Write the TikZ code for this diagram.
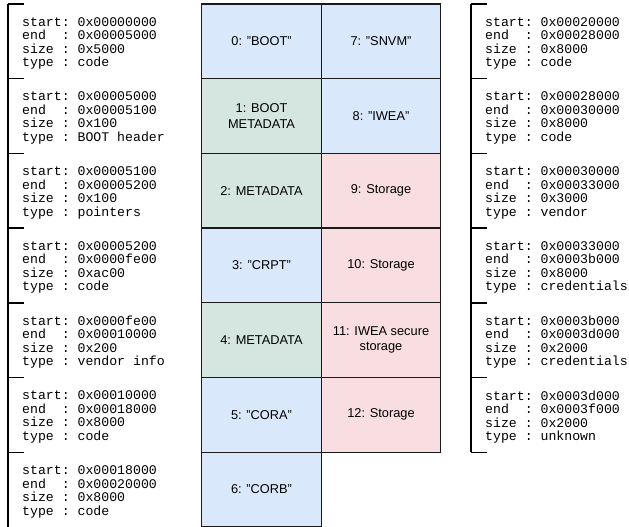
\documentclass[tikz,border=0pt]{standalone}
\usepackage{fontspec}
\setsansfont{Liberation Sans}
\setmonofont{Liberation Mono}
\usepackage{tikz}
\usetikzlibrary{arrows.meta, positioning, calc}
\definecolor{pblue}{HTML}{DAE8FC}
\definecolor{pgreen}{HTML}{D5E5DF}
\definecolor{ppink}{HTML}{F8DDE1}
\definecolor{pline}{HTML}{1A1A1A}
\tikzset{
  >=Latex,
  cell/.style={
    draw=pline, fill=#1, line width=1.3pt,
    minimum width=119.5pt, minimum height=74.7pt, inner sep=0pt,
    align=center, font=\fontsize{12.8}{15.5}\selectfont\sffamily
  },
  cell/.default=pblue,
  info/.style={
    anchor=west, align=left, inner sep=0pt,
    font=\fontsize{13.2}{13.5}\selectfont\ttfamily
  },
  bracket/.style={line width=1.4pt, draw=black}
}

\begin{document}
\begin{tikzpicture}[x=1pt, y=-1pt]
  \useasboundingbox (0,0) rectangle (629,527);
  % partition cells
  \foreach \i/\col/\fillc/\lab in {
      0/0/pblue/{0: "BOOT"},
      1/0/pgreen/{1: BOOT\\METADATA},
      2/0/pgreen/{2: METADATA},
      3/0/pblue/{3: "CRPT"},
      4/0/pgreen/{4: METADATA},
      5/0/pblue/{5: "CORA"},
      6/0/pblue/{6: "CORB"},
      7/1/pblue/{7: "SNVM"},
      8/1/pblue/{8: "IWEA"},
      9/1/ppink/{9: Storage},
      10/1/ppink/{10: Storage},
      11/1/ppink/{11: IWEA secure\\storage},
      12/1/ppink/{12: Storage}} {
    \pgfmathsetmacro{\row}{int(\col==0 ? \i : \i-7)}
    \node[cell=\fillc] (c\i) at (261.5+119.5*\col, 41.35+74.7*\row) {\lab};
  }
  % left side ranges
  \foreach \k/\st/\en/\sz/\ty in {
      0/00000000/00005000/5000/code,
      1/00005000/00005100/100/BOOT header,
      2/00005100/00005200/100/pointers,
      3/00005200/0000fe00/ac00/code,
      4/0000fe00/00010000/200/vendor info,
      5/00010000/00018000/8000/code,
      6/00018000/00020000/8000/code} {
    \node[info] (l\k) at (22, 43.5+74.7*\k)
      {start: 0x\st\\end~~: 0x\en\\size : 0x\sz\\type : \ty};
    \draw[bracket] (8,4+74.7*\k) -- (24,4+74.7*\k);
  }
  \draw[bracket] (8,4) -- (8,527);
  % right side ranges
  \foreach \k/\st/\en/\sz/\ty in {
      0/00020000/00028000/8000/code,
      1/00028000/00030000/8000/code,
      2/00030000/00033000/3000/vendor,
      3/00033000/0003b000/8000/credentials,
      4/0003b000/0003d000/2000/credentials,
      5/0003d000/0003f000/2000/unknown} {
    \node[info] (r\k) at (485, 43.5+74.7*\k)
      {start: 0x\st\\end~~: 0x\en\\size : 0x\sz\\type : \ty};
  }
  \foreach \k in {0,...,6}
    \draw[bracket] (471,4+74.7*\k) -- (487,4+74.7*\k);
  \draw[bracket] (471,4) -- (471,452.2);
\end{tikzpicture}
\end{document}
